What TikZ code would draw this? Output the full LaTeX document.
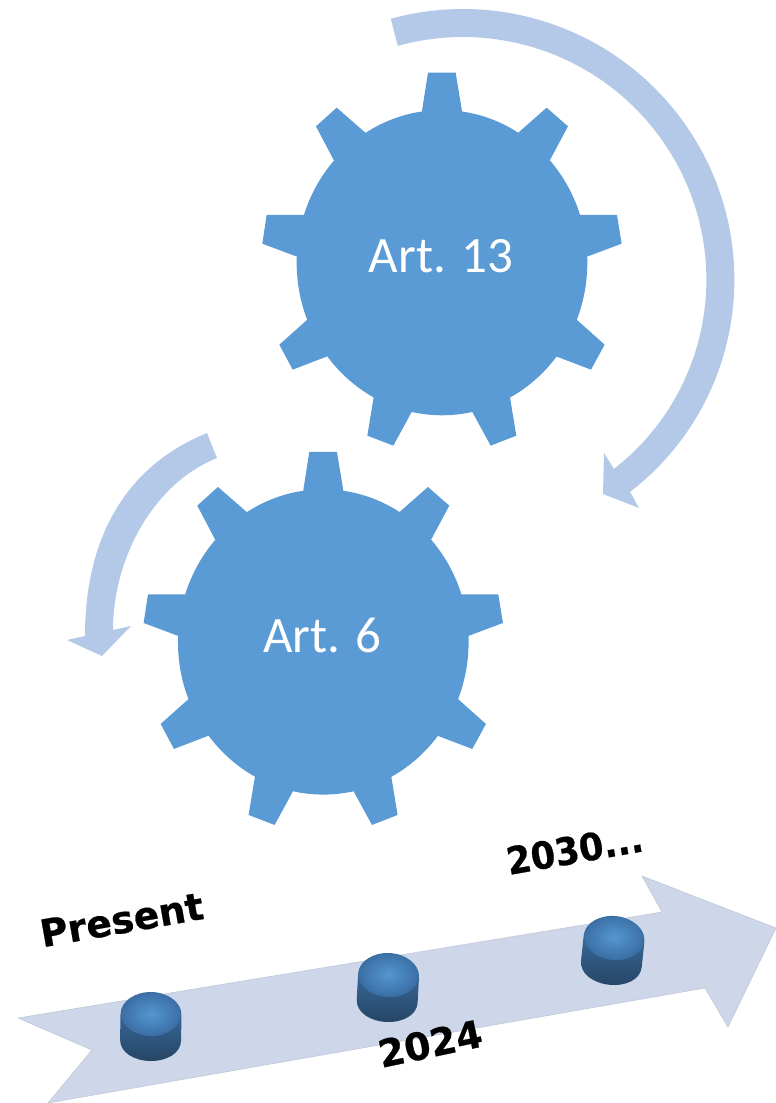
\documentclass[tikz,border=0pt]{standalone}
\usepackage{fontspec}
\setmainfont{Carlito}
\newfontfamily\heavy[FakeBold=0.6]{DejaVu Sans Bold}
\definecolor{gearblue}{HTML}{5B9BD5}
\definecolor{swoop}{HTML}{B4C9E7}
\definecolor{lane}{HTML}{CDD7E9}
\definecolor{capmid}{HTML}{5596D2}
\definecolor{capedge}{HTML}{3A6EA3}
\definecolor{bodyhigh}{HTML}{3F76AE}
\definecolor{bodylow}{HTML}{264565}
\tikzset{
  gearfill/.style={fill=gearblue,draw=none},
  swoopfill/.style={fill=swoop,draw=none},
  lanefill/.style={fill=lane,draw=lane!80!gray,line width=0.3pt},
  gearlabel/.style={text=white,font=\fontsize{29}{29}\selectfont,anchor=base,inner sep=0pt},
  yearlabel/.style={text=black,font=\heavy\fontsize{21.5}{21.5}\selectfont,anchor=base,inner sep=0pt},
}
\newcommand{\gearshape}[2]{%
  \begin{scope}[shift={(#1,#2)},x=0.02cm/3,y=-0.02cm/3]
    \path[gearfill] (576,608) ellipse [x radius=2.907cm, y radius=3.053cm];
    \path[gearfill] (516,153) -- (534,38) -- (617,38) -- (636,153) -- (576,608) -- cycle;
    \path[gearfill] (806,217) -- (890,143) -- (954,199) -- (900,300) -- (576,608) -- cycle;
    \path[gearfill] (990,465) -- (1101,465) -- (1115,551) -- (1011,590) -- (576,608) -- cycle;
    \path[gearfill] (980,779) -- (1064,854) -- (1023,929) -- (918,889) -- (576,608) -- cycle;
    \path[gearfill] (780,1012) -- (799,1127) -- (722,1157) -- (667,1056) -- (576,608) -- cycle;
    \path[gearfill] (485,1056) -- (430,1157) -- (352,1127) -- (371,1012) -- (576,608) -- cycle;
    \path[gearfill] (232,889) -- (128,929) -- (88,854) -- (172,779) -- (576,608) -- cycle;
    \path[gearfill] (141,590) -- (37,551) -- (50,465) -- (162,465) -- (576,608) -- cycle;
    \path[gearfill] (251,300) -- (198,199) -- (260,143) -- (345,217) -- (576,608) -- cycle;
  \end{scope}}
\newcommand{\puck}[3]{%
  \begin{scope}[shift={(#1,#2)},rotate=#3]
    \path[top color=bodyhigh,bottom color=bodylow]
      (-30.5,0) -- (-30.5,25) .. controls (-30.5,38) and (-16,46) .. (0,46)
      .. controls (16,46) and (30.5,38) .. (30.5,25) -- (30.5,0)
      .. controls (30.5,-14) and (16,-22) .. (0,-22)
      .. controls (-16,-22) and (-30.5,-14) .. (-30.5,0) -- cycle;
    \path[shading=radial,inner color=capmid,outer color=capedge]
      (0,-1) ellipse [x radius=0.6cm, y radius=0.44cm];
  \end{scope}}
\begin{document}
\begin{tikzpicture}[x=0.02cm,y=-0.02cm]
  \useasboundingbox (0,0) rectangle (776,1103);
  % large swoop
  \path[swoopfill] plot[domain=105.4:-51.6,samples=80,smooth] ({463+(272-3*((105.4-\x)/157)^4)*cos(\x)},{281-(272-3*((105.4-\x)/157)^4)*sin(\x)})
    -- (639,508) -- (603,494) -- (604,453) -- (614,469)
    -- plot[domain=-51.2:105.5,samples=80,smooth] ({463+(244-3*((105.5-\x)/156.7)^4)*cos(\x)},{281-(244-3*((105.5-\x)/156.7)^4)*sin(\x)}) -- cycle;
  % small swoop
  \path[swoopfill] (207,433) .. controls (128,465) and (85,535) .. (85,636)
    -- (67,640) -- (102,656) -- (131,626) -- (113,630)
    .. controls (113,560) and (152,484) .. (217,458) -- cycle;
  % gears
  \gearshape{250}{60}
  \gearshape{131.3}{439.3}
  \node[gearlabel] (art13) at (441,272.7) {Art. 13};
  \node[gearlabel] (art6) at (322.5,652) {Art. 6};
  % timeline arrow
  \path[lanefill] (18,1018) -- (92,1050) -- (48,1103) -- (705,988) -- (728,1027) -- (776,928) -- (642,876) -- (662,912) -- cycle;
  \puck{151}{1015}{-1}
  \puck{388.5}{976}{-3}
  \puck{614}{939}{-6}
  \node[yearlabel,rotate=10] (present) at (124,933) {Present};
  \node[yearlabel,rotate=12] (y2024) at (433,1057) {2024};
  \node[yearlabel,rotate=10,xscale=0.93] (y2030) at (577,863) {2030...};
\end{tikzpicture}
\end{document}
